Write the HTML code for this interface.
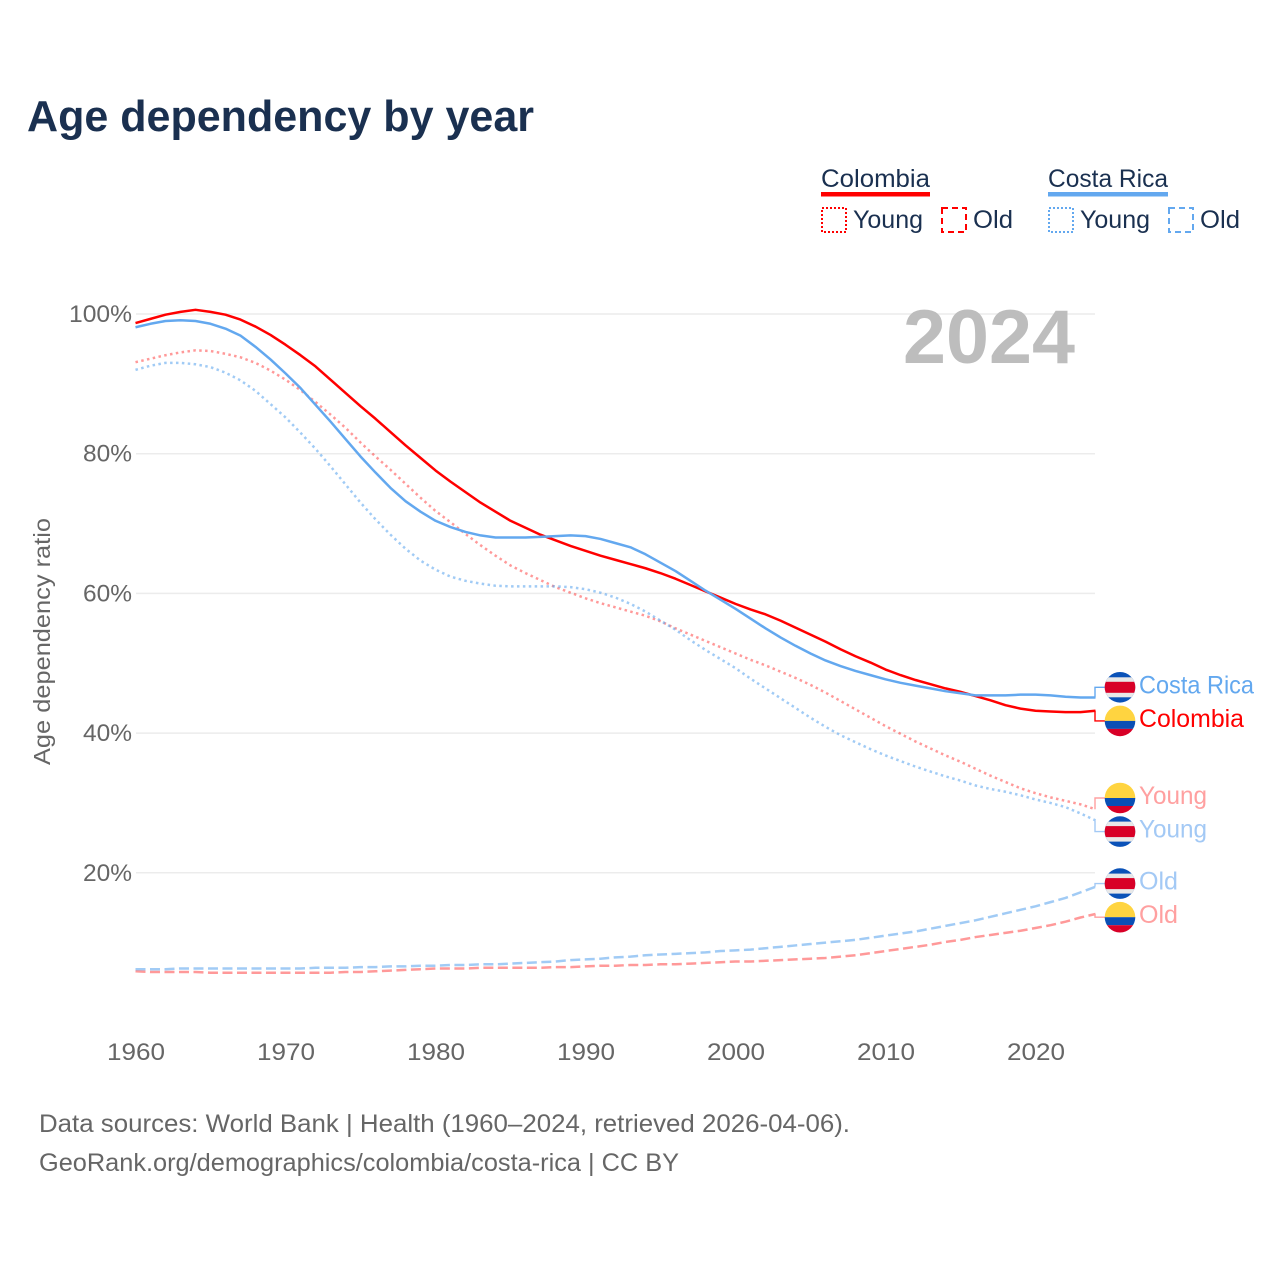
<!DOCTYPE html>
<html lang="en">
<head>
<meta charset="utf-8">
<title>Age dependency by year</title>
<style>
html,body{margin:0;padding:0;background:#fff;}
svg{display:block;font-family:"Liberation Sans",Arial,sans-serif;}
</style>
</head>
<body>
<svg id="chart" xmlns="http://www.w3.org/2000/svg" width="1280" height="1280" viewBox="0 0 1280 1280">
  <rect width="1280" height="1280" fill="#fff"/>
  <text x="27" y="131" font-size="44" font-weight="700" fill="#1a3050" textLength="507" lengthAdjust="spacingAndGlyphs">Age dependency by year</text>

  <g font-size="25" fill="#1a3050">
    <text x="821" y="187" textLength="109" lengthAdjust="spacingAndGlyphs">Colombia</text>
    <rect x="821" y="192" width="109" height="4.5" fill="#ff0000"/>
    <rect x="822" y="208" width="24" height="24" fill="none" stroke="#ff0000" stroke-width="2" stroke-dasharray="2 2"/>
    <text x="853" y="228" textLength="70" lengthAdjust="spacingAndGlyphs">Young</text>
    <rect x="942" y="208" width="24" height="24" fill="none" stroke="#ff0000" stroke-width="2" stroke-dasharray="6 4"/>
    <text x="973" y="228" textLength="40" lengthAdjust="spacingAndGlyphs">Old</text>
    <text x="1048" y="187" textLength="120" lengthAdjust="spacingAndGlyphs">Costa Rica</text>
    <rect x="1048" y="192" width="120" height="4.5" fill="#63a8ef"/>
    <rect x="1049" y="208" width="24" height="24" fill="none" stroke="#63a8ef" stroke-width="2" stroke-dasharray="2 2"/>
    <text x="1080" y="228" textLength="70" lengthAdjust="spacingAndGlyphs">Young</text>
    <rect x="1169" y="208" width="24" height="24" fill="none" stroke="#63a8ef" stroke-width="2" stroke-dasharray="6 4"/>
    <text x="1200" y="228" textLength="40" lengthAdjust="spacingAndGlyphs">Old</text>
  </g>

  <g id="grid"></g>
  <g id="yticks"></g>
  <g id="xticks"></g>
  <text transform="translate(50,641.5) rotate(-90)" text-anchor="middle" font-size="23.5" fill="#666" textLength="247" lengthAdjust="spacingAndGlyphs">Age dependency ratio</text>
  <text x="903" y="363" font-size="76" font-weight="700" fill="#bdbdbd" textLength="172" lengthAdjust="spacingAndGlyphs">2024</text>

  <defs>
    <clipPath id="flag-clip" clipPathUnits="userSpaceOnUse"><circle cx="0" cy="0" r="15.3"/></clipPath>
  </defs>
  <g id="series"></g>
  <g id="endlabels"></g>

  <g font-size="25" fill="#666">
    <text x="39" y="1132" textLength="811" lengthAdjust="spacingAndGlyphs">Data sources: World Bank | Health (1960–2024, retrieved 2026-04-06).</text>
    <text x="39" y="1171" textLength="640" lengthAdjust="spacingAndGlyphs">GeoRank.org/demographics/colombia/costa-rica | CC BY</text>
  </g>
</svg>
<script>
const startYear = 1960;
const xTickYears = [1960, 1970, 1980, 1990, 2000, 2010, 2020];
const yTickValues = [20, 40, 60, 80, 100];
const colombiaTotal = [98.7,99.3,99.9,100.3,100.6,100.3,99.9,99.2,98.2,97.0,95.6,94.1,92.5,90.6,88.7,86.8,85.0,83.1,81.2,79.4,77.6,76.0,74.5,73.0,71.7,70.4,69.4,68.4,67.6,66.8,66.1,65.4,64.8,64.2,63.6,62.9,62.1,61.2,60.3,59.4,58.5,57.7,57.0,56.1,55.1,54.1,53.1,52.0,51.0,50.1,49.1,48.3,47.6,47.0,46.4,45.9,45.3,44.7,44.0,43.5,43.2,43.1,43.0,43.0,43.2];
const costaRicaTotal = [98.1,98.6,99.0,99.1,99.0,98.6,97.9,96.9,95.3,93.5,91.5,89.4,87.0,84.6,82.1,79.6,77.3,75.1,73.2,71.7,70.4,69.5,68.8,68.3,68.0,68.0,68.0,68.1,68.2,68.3,68.2,67.8,67.2,66.6,65.6,64.4,63.2,61.8,60.4,59.1,57.8,56.4,55.0,53.7,52.5,51.4,50.4,49.6,48.9,48.3,47.7,47.2,46.8,46.4,46.0,45.7,45.4,45.4,45.4,45.5,45.5,45.4,45.2,45.1,45.1];
const colombiaYoung = [93.1,93.6,94.1,94.5,94.8,94.7,94.3,93.8,93.0,91.9,90.6,89.1,87.4,85.6,83.7,81.6,79.6,77.7,75.7,73.7,71.8,70.2,68.5,66.9,65.4,64.0,62.9,61.9,60.9,60.1,59.3,58.6,58.0,57.4,56.8,56.0,55.0,54.1,53.2,52.3,51.4,50.5,49.7,48.8,47.9,46.9,45.8,44.6,43.4,42.2,41.0,39.9,38.8,37.8,36.8,35.9,34.9,33.9,33.0,32.1,31.4,30.8,30.3,29.8,29.1];
const costaRicaYoung = [92.0,92.6,93.0,93.0,92.8,92.4,91.6,90.5,89.0,87.1,85.2,83.0,80.7,78.2,75.6,73.0,70.6,68.4,66.4,64.7,63.4,62.4,61.8,61.4,61.1,61.0,61.0,61.0,61.0,60.9,60.6,60.1,59.4,58.5,57.4,56.1,54.8,53.3,51.9,50.6,49.3,47.8,46.4,45.0,43.6,42.2,40.9,39.7,38.7,37.7,36.8,36.0,35.2,34.5,33.8,33.2,32.5,32.0,31.6,31.1,30.5,30.0,29.4,28.5,27.5];
const colombiaOld = [5.9,5.8,5.8,5.8,5.8,5.7,5.7,5.7,5.7,5.7,5.7,5.7,5.7,5.7,5.8,5.8,5.9,6.0,6.1,6.2,6.3,6.3,6.3,6.4,6.4,6.4,6.4,6.4,6.5,6.5,6.6,6.7,6.7,6.8,6.8,6.9,6.9,7.0,7.1,7.2,7.3,7.3,7.4,7.5,7.6,7.7,7.8,8.0,8.2,8.5,8.8,9.1,9.4,9.7,10.1,10.4,10.8,11.1,11.4,11.7,12.1,12.5,13.0,13.6,14.1];
const costaRicaOld = [6.2,6.2,6.2,6.3,6.3,6.3,6.3,6.3,6.3,6.3,6.3,6.3,6.4,6.4,6.4,6.5,6.5,6.6,6.6,6.7,6.7,6.8,6.8,6.9,6.9,7.0,7.1,7.2,7.3,7.5,7.6,7.7,7.9,8.0,8.2,8.3,8.4,8.5,8.6,8.8,8.9,9.0,9.2,9.4,9.6,9.8,10.0,10.2,10.4,10.7,11.0,11.3,11.6,12.0,12.4,12.8,13.2,13.7,14.2,14.7,15.2,15.8,16.4,17.2,18.0];

const NS = 'http://www.w3.org/2000/svg';
const RED = '#ff0000', BLUE = '#63a8ef';
const LIGHT_RED = '#ffa0a0', LIGHT_BLUE = '#a3c9f5';
function xScale(year) { return 135.5 + (year - startYear) * 15; }
function yScale(value) { return 1012.5 - value * 6.985; }
function make(tag, attrs, parent) {
  const el = document.createElementNS(NS, tag);
  for (const k in attrs) el.setAttribute(k, attrs[k]);
  parent.appendChild(el);
  return el;
}
const gridG = document.getElementById('grid');
const yG = document.getElementById('yticks');
const xG = document.getElementById('xticks');
const seriesG = document.getElementById('series');
const endG = document.getElementById('endlabels');

yTickValues.forEach(function (v) {
  const line = make('line', {x1: 136, x2: 1095, y1: yScale(v), y2: yScale(v), stroke: '#ececec', 'stroke-width': 1.5}, gridG);
  
  
  const label = make('text', {x: 132, y: yScale(v) + 8, 'text-anchor': 'end', 'font-size': 24, fill: '#666', textLength: v === 100 ? 63 : 49, lengthAdjust: 'spacingAndGlyphs'}, yG);
  
  
  label.textContent = v + '%';
});

xTickYears.forEach(function (y) {
  const label = make('text', {x: xScale(y) + 0.5, y: 1060, 'text-anchor': 'middle', 'font-size': 24, fill: '#666', textLength: 58, lengthAdjust: 'spacingAndGlyphs'}, xG);
  
  
  label.textContent = y;
});

function drawLine(values, color, dash, opacity, name) {
  const pts = values.map(function (v, i) { return xScale(startYear + i).toFixed(1) + ',' + yScale(v).toFixed(2); }).join(' ');
  const attrs = {points: pts, fill: 'none', stroke: color, 'stroke-width': 2.5, 'stroke-opacity': opacity, 'stroke-linejoin': 'round'};
  if (dash) attrs['stroke-dasharray'] = dash;
  const line = make('polyline', attrs, seriesG);
  
  
}
drawLine(colombiaOld, RED, '10 4.5', 0.4, 'line-colombia-old');
drawLine(costaRicaOld, BLUE, '10 4.5', 0.6, 'line-costa-rica-old');
drawLine(colombiaYoung, RED, '2.5 3.4', 0.4, 'line-colombia-young');
drawLine(costaRicaYoung, BLUE, '2.5 3.4', 0.6, 'line-costa-rica-young');
drawLine(colombiaTotal, RED, null, 1, 'line-colombia-total');
drawLine(costaRicaTotal, BLUE, null, 1, 'line-costa-rica-total');

function drawFlag(country, cy, name) {
  const g = make('g', {transform: 'translate(1120,' + cy.toFixed(1) + ')'}, endG);
  
  
  const c = make('g', {'clip-path': 'url(#flag-clip)'}, g);
  if (country === 'colombia') {
    make('rect', {x: -16, y: -16, width: 32, height: 16, fill: '#ffd440'}, c);
    make('rect', {x: -16, y: 0, width: 32, height: 8, fill: '#0a4fb5'}, c);
    make('rect', {x: -16, y: 8, width: 32, height: 8, fill: '#d80027'}, c);
  } else {
    make('rect', {x: -16, y: -16, width: 32, height: 32, fill: '#0a52b8'}, c);
    make('rect', {x: -16, y: -10, width: 32, height: 20, fill: '#e8e8e8'}, c);
    make('rect', {x: -16, y: -5.5, width: 32, height: 11, fill: '#d80027'}, c);
  }
}

function drawPair(a, b) {
  const ya = yScale(a.values[a.values.length - 1]);
  const yb = yScale(b.values[b.values.length - 1]);
  const mid = (ya + yb) / 2;
  const upperIsA = ya <= yb;
  [[a, ya, upperIsA ? mid - 16.8 : mid + 16.8], [b, yb, upperIsA ? mid + 16.8 : mid - 16.8]].forEach(function (row) {
    const s = row[0], lineY = row[1], slotY = row[2];
    const conn = make('polyline', {points: '1095,' + lineY.toFixed(1) + ' 1095,' + slotY.toFixed(1) + ' 1105,' + slotY.toFixed(1), fill: 'none', stroke: s.color, 'stroke-width': 1.4}, endG);
    
    
    drawFlag(s.country, slotY, 'flag-' + s.id);
    const label = make('text', {x: 1139, y: slotY + 6, 'font-size': 25, fill: s.color, textLength: s.width, lengthAdjust: 'spacingAndGlyphs'}, endG);
    
    
    label.textContent = s.text;
  });
}
drawPair({id: 'costa-rica-total', country: 'costa-rica', values: costaRicaTotal, color: BLUE, text: 'Costa Rica', width: 115},
         {id: 'colombia-total', country: 'colombia', values: colombiaTotal, color: RED, text: 'Colombia', width: 105});
drawPair({id: 'colombia-young', country: 'colombia', values: colombiaYoung, color: LIGHT_RED, text: 'Young', width: 68},
         {id: 'costa-rica-young', country: 'costa-rica', values: costaRicaYoung, color: LIGHT_BLUE, text: 'Young', width: 68});
drawPair({id: 'costa-rica-old', country: 'costa-rica', values: costaRicaOld, color: LIGHT_BLUE, text: 'Old', width: 39},
         {id: 'colombia-old', country: 'colombia', values: colombiaOld, color: LIGHT_RED, text: 'Old', width: 39});
</script>
</body>
</html>
